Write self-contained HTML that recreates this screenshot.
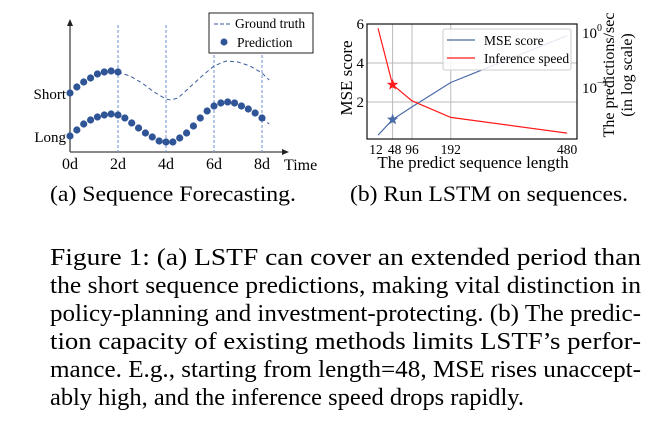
<!DOCTYPE html>
<html><head><meta charset="utf-8"><style>
html,body{margin:0;padding:0;background:#fff;}
svg{display:block;font-family:"Liberation Serif",serif;}
</style></head><body>
<svg id="fig" width="656" height="421" viewBox="0 0 656 421">
<g id="left"></g>
<g id="right"></g>
<text x="50" y="201" font-size="22" textLength="246" lengthAdjust="spacingAndGlyphs">(a) Sequence Forecasting.</text>
<text x="350" y="201" font-size="22" textLength="278" lengthAdjust="spacingAndGlyphs">(b) Run LSTM on sequences.</text>
<g font-size="24">
<text x="50" y="265" textLength="591" lengthAdjust="spacingAndGlyphs">Figure 1: (a) LSTF can cover an extended period than</text>
<text x="50" y="293" textLength="591" lengthAdjust="spacingAndGlyphs">the short sequence predictions, making vital distinction in</text>
<text x="50" y="321" textLength="591" lengthAdjust="spacingAndGlyphs">policy-planning and investment-protecting. (b) The predic-</text>
<text x="50" y="349" textLength="591" lengthAdjust="spacingAndGlyphs">tion capacity of existing methods limits LSTF’s perfor-</text>
<text x="50" y="377" textLength="591" lengthAdjust="spacingAndGlyphs">mance. E.g., starting from length=48, MSE rises unaccept-</text>
<text x="50" y="405" textLength="474" lengthAdjust="spacingAndGlyphs">ably high, and the inference speed drops rapidly.</text>
</g>
</svg>
<script>
// ---- Left chart data ----
const dayTicks = [0,2,4,6,8];
const dayLabels = ["0d","2d","4d","6d","8d"];
const shortPred = [5.9,6.5,7.0,7.4,7.8,8.0,8.1,8.0];
const shortTruthT = [2,2.5,3,3.5,4,4.2,4.5,5,5.5,6,6.5,7,7.5,8,8.3];
const shortTruthV = [8.0,7.6,6.9,6.0,5.3,5.2,5.4,6.5,7.6,8.6,9.1,9.0,8.6,7.9,7.2];
const longPred = [1.6,2.2,2.8,3.2,3.5,3.7,3.8,3.7,3.4,2.9,2.4,1.9,1.5,1.1,1.0,1.0,1.4,1.9,2.6,3.4,4.1,4.6,4.9,5.0,4.9,4.6,4.3,3.9,3.4];
const longTruthT = [8,8.3];
const longTruthV = [3.4,2.8];
// ---- Right chart data ----
const seqLens = [12,48,96,192,480];
const mse = [0.3,1.1,1.75,3.0,5.4];
const speed = [1.17,0.11,0.056,0.028,0.0145];
const mseTicks = [2,4,6];
const NS="http://www.w3.org/2000/svg";
function mk(parent,tag,attrs){const e=document.createElementNS(NS,tag);for(const k in attrs)e.setAttribute(k,attrs[k]);parent.appendChild(e);return e;}
const L=document.getElementById('left'), R=document.getElementById('right');
const lx=t=>70+t*24, ly=v=>152-v*10;
let e;
e=mk(L,'line',{x1:70,y1:152,x2:70,y2:24,stroke:'#444','stroke-width':1.3});

e=mk(L,'polygon',{points:'67,26 73,26 70,19',fill:'#222'});

e=mk(L,'line',{x1:70,y1:152,x2:283,y2:152,stroke:'#444','stroke-width':1.3});

e=mk(L,'polygon',{points:'282,149 282,155 289,152',fill:'#222'});

dayTicks.forEach((t,i)=>{
  if(t>0){e=mk(L,'line',{x1:lx(t),y1:25,x2:lx(t),y2:152,stroke:'#6d8fd0','stroke-width':1,'stroke-dasharray':'3,2'});
  }
  e=mk(L,'text',{x:lx(t),y:169,'font-size':16,'text-anchor':'middle'});e.textContent=dayLabels[i];
  
});
e=mk(L,'text',{x:284,y:170,'font-size':16});e.textContent='Time';

e=mk(L,'text',{x:66,y:99,'font-size':15,'text-anchor':'end'});e.textContent='Short';

e=mk(L,'text',{x:66,y:142,'font-size':15,'text-anchor':'end'});e.textContent='Long';

function dashed(ts,vs,name){let d='';ts.forEach((t,i)=>d+=(i?'L':'M')+lx(t)+','+ly(vs[i]));
  const p=mk(L,'path',{d:d,fill:'none',stroke:'#3a5a9a','stroke-width':1,'stroke-dasharray':'4,3'});
  }
dashed(shortTruthT,shortTruthV,'short-ground-truth');
dashed(longTruthT,longTruthV,'long-ground-truth');
const step=2/7;
shortPred.forEach((v,i)=>{const c=mk(L,'circle',{cx:lx(i*step),cy:ly(v),r:3.6,fill:'#2f5597'});
  });
longPred.forEach((v,i)=>{const c=mk(L,'circle',{cx:lx(i*step),cy:ly(v),r:3.6,fill:'#2f5597'});
  });
const lg=mk(L,'g',{});
mk(lg,'rect',{x:209,y:13,width:104,height:40,fill:'#fff',stroke:'#222','stroke-width':1});
mk(lg,'line',{x1:214,y1:24,x2:232,y2:24,stroke:'#3a5a9a','stroke-dasharray':'4,2'});
e=mk(lg,'text',{x:235,y:28,'font-size':13.5});e.textContent='Ground truth';

mk(lg,'circle',{cx:224,cy:42,r:3.5,fill:'#2f5597'});
e=mk(lg,'text',{x:237,y:47,'font-size':13.5});e.textContent='Prediction';

// right scales
const X0=367,X1=577,T=24,B=139;
const rx=n=>373.2+n*0.404, ry=v=>141-v*19.5, rs=s=>32-Math.log10(s)*55;
seqLens.slice(1,4).forEach(n=>{e=mk(R,'line',{x1:rx(n),y1:T,x2:rx(n),y2:B,stroke:'#bbb','stroke-width':1});
  });
mseTicks.forEach(v=>{e=mk(R,'line',{x1:X0,y1:ry(v),x2:X1,y2:ry(v),stroke:'#bbb','stroke-width':1});
  
  e=mk(R,'text',{x:X0-3,y:ry(v)+5,'font-size':15,'text-anchor':'end'});e.textContent=v;
  });
seqLens.forEach((n,i)=>{e=mk(R,'text',{x:rx(n)+(i===0?-2:i===1?2:0),y:154,'font-size':13.5,'text-anchor':'middle'});e.textContent=n;
  });
function poly(vals,f,col,name){const pts=vals.map((v,i)=>rx(seqLens[i])+','+f(v)).join(' ');
  const p=mk(R,'polyline',{points:pts,fill:'none',stroke:col,'stroke-width':1.2});
  }
poly(mse,ry,'#4a6aa8','mse-line');
poly(speed,rs,'#ff1a1a','speed-line');
function star(cx,cy,r,col,name){let d='';for(let i=0;i<10;i++){const a=-Math.PI/2+i*Math.PI/5,rr=i%2?r*0.42:r;d+=(i?'L':'M')+(cx+rr*Math.cos(a)).toFixed(1)+','+(cy+rr*Math.sin(a)).toFixed(1);}
  const s=mk(R,'path',{d:d+'Z',fill:col});}
star(rx(seqLens[1]),ry(mse[1]),6,'#4a6aa8','mse-star-48');
star(rx(seqLens[1]),rs(speed[1]),6,'#ff1a1a','speed-star-48');
e=mk(R,'rect',{x:X0,y:T,width:X1-X0,height:B-T,fill:'none',stroke:'#111','stroke-width':1.2});

[[1,'0'],[0.1,'−1']].forEach(([s,ex])=>{e=mk(R,'text',{x:X1+5,y:rs(s)+6,'font-size':15});
  e.innerHTML='10<tspan dy="-7" font-size="10">'+ex+'</tspan>';
  });
const rl=mk(R,'g',{});
mk(rl,'rect',{x:443,y:29,width:128,height:41,rx:2,fill:'#fff','fill-opacity':0.85,stroke:'#ccc'});
mk(rl,'line',{x1:447,y1:40,x2:475,y2:40,stroke:'#4a6aa8','stroke-width':1.2});
e=mk(rl,'text',{x:484,y:45,'font-size':13.5});e.textContent='MSE score';

mk(rl,'line',{x1:447,y1:58,x2:475,y2:58,stroke:'#ff1a1a','stroke-width':1.2});
e=mk(rl,'text',{x:484,y:63,'font-size':13.5});e.textContent='Inference speed';

e=mk(R,'text',{x:473,y:168,'font-size':17,'text-anchor':'middle'});e.textContent='The predict sequence length';

e=mk(R,'text',{x:0,y:0,'font-size':17,'text-anchor':'middle',transform:'translate(352,78) rotate(-90)'});e.textContent='MSE score';

e=mk(R,'text',{x:0,y:0,'font-size':16,'text-anchor':'middle',transform:'translate(614,75) rotate(-90)'});e.textContent='The predictions/sec';

e=mk(R,'text',{x:0,y:0,'font-size':16,'text-anchor':'middle',transform:'translate(632,75) rotate(-90)'});e.textContent='(in log scale)';

</script>
</body></html>
